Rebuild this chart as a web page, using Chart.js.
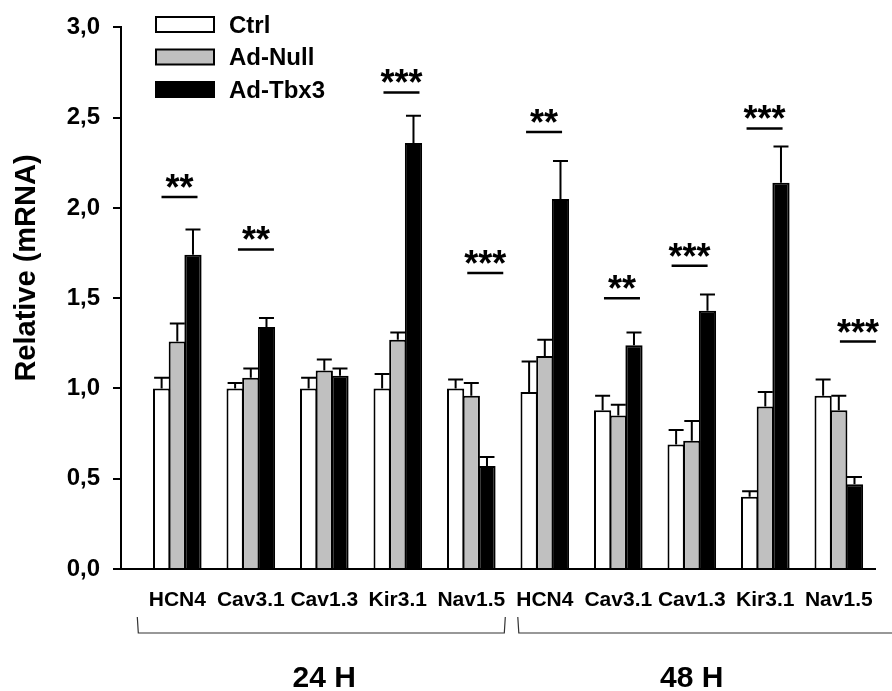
<!DOCTYPE html>
<html>
<head>
<meta charset="utf-8">
<script src="https://cdn.jsdelivr.net/npm/chart.js@4.4.1/dist/chart.umd.min.js"></script>
<style>
  html, body { margin: 0; padding: 0; background: #fff; }
  #wrap { width: 892px; height: 691px; }
</style>
</head>
<body>
<div id="wrap"><canvas id="mrnaChart"></canvas></div>
<script>
// data
const genes = ['HCN4', 'Cav3.1', 'Cav1.3', 'Kir3.1', 'Nav1.5', 'HCN4', 'Cav3.1', 'Cav1.3', 'Kir3.1', 'Nav1.5'];
const timeGroups = ['24 H', '48 H'];
const groupFirst = [0, 5];
const groupLast = [4, 9];
const seriesNames = ['Ctrl', 'Ad-Null', 'Ad-Tbx3'];

const ctrlMean = [1.0, 1.0, 1.0, 1.0, 1.0, 0.98, 0.88, 0.69, 0.40, 0.96];
const ctrlErr  = [0.06, 0.03, 0.06, 0.08, 0.05, 0.17, 0.08, 0.08, 0.03, 0.09];
const nullMean = [1.26, 1.06, 1.10, 1.27, 0.96, 1.18, 0.85, 0.71, 0.90, 0.88];
const nullErr  = [0.10, 0.05, 0.06, 0.04, 0.07, 0.09, 0.06, 0.11, 0.08, 0.08];
const tbx3Mean = [1.74, 1.34, 1.07, 2.36, 0.57, 2.05, 1.24, 1.43, 2.14, 0.47];
const tbx3Err  = [0.14, 0.05, 0.04, 0.15, 0.05, 0.21, 0.07, 0.09, 0.20, 0.04];

// significance marks: text, x position (category units), y level of the bar
const sigText  = ['**', '**', '***', '***', '**', '**', '***', '***', '***'];
const sigPos   = [0.03, 1.07, 3.05, 4.19, 4.99, 6.05, 6.97, 7.99, 9.26];
const sigLevel = [2.06, 1.77, 2.64, 1.64, 2.42, 1.50, 1.68, 2.44, 1.26];

const yTicks = [0, 0.5, 1.0, 1.5, 2.0, 2.5, 3.0];

const errs = [ctrlErr, nullErr, tbx3Err];
const fills = ['#ffffff', '#c0c0c0', '#000000'];
const FONT = '"Liberation Sans", Arial, sans-serif';

const extras = {
  id: 'extras',
  afterDatasetsDraw(chart) {
    const { ctx, scales: { y } } = chart;
    ctx.save();
    ctx.strokeStyle = '#000';
    ctx.lineWidth = 2;
    chart.data.datasets.forEach((ds, di) => {
      const meta = chart.getDatasetMeta(di);
      meta.data.forEach((bar, i) => {
        const top = y.getPixelForValue(ds.data[i].y + errs[di][i]);
        ctx.beginPath();
        ctx.moveTo(bar.x, bar.y);
        ctx.lineTo(bar.x, top);
        ctx.moveTo(bar.x - 7.5, top);
        ctx.lineTo(bar.x + 7.5, top);
        ctx.stroke();
      });
    });
    ctx.restore();
  },
  afterDraw(chart) {
    const { ctx, scales: { x, y } } = chart;
    ctx.save();

    // significance bars + stars
    ctx.fillStyle = '#000';
    ctx.strokeStyle = '#000';
    ctx.font = 'bold 36px ' + FONT;
    ctx.textAlign = 'center';
    ctx.textBaseline = 'alphabetic';
    sigText.forEach((t, i) => {
      const cx = x.getPixelForValue(sigPos[i]);
      const ly = y.getPixelForValue(sigLevel[i]);
      ctx.lineWidth = 2.5;
      ctx.beginPath();
      ctx.moveTo(cx - 18, ly);
      ctx.lineTo(cx + 18, ly);
      ctx.stroke();
      ctx.fillText(t, cx, ly + 3);
    });

    // brackets under the gene names
    ctx.strokeStyle = '#333';
    ctx.lineWidth = 1.2;
    const bTop = 617, bBot = 633;
    const l0 = x.getPixelForValue(groupFirst[0]) - 40;
    const r0 = x.getPixelForValue(groupLast[0]) + 34;
    ctx.beginPath();
    ctx.moveTo(l0, bTop); ctx.lineTo(l0 + 1, bBot); ctx.lineTo(r0 - 1, bBot); ctx.lineTo(r0, bTop);
    ctx.stroke();
    const l1 = x.getPixelForValue(groupFirst[1]) - 27;
    ctx.beginPath();
    ctx.moveTo(l1, bTop); ctx.lineTo(l1 + 1, bBot); ctx.lineTo(chart.width, bBot);
    ctx.stroke();

    // group labels
    ctx.fillStyle = '#000';
    ctx.font = 'bold 30px ' + FONT;
    ctx.textBaseline = 'alphabetic';
    timeGroups.forEach((g, i) => {
      const cx = x.getPixelForValue((groupFirst[i] + groupLast[i]) / 2);
      ctx.fillText(g, cx, 687);
    });

    // y axis title
    ctx.save();
    ctx.translate(27, 268);
    ctx.rotate(-Math.PI / 2);
    ctx.font = 'bold 29px ' + FONT;
    ctx.textAlign = 'center';
    ctx.textBaseline = 'middle';
    ctx.fillText('Relative (mRNA)', 0, 0);
    ctx.restore();

    // legend
    ctx.font = 'bold 24px ' + FONT;
    ctx.textAlign = 'left';
    ctx.textBaseline = 'middle';
    chart.data.datasets.forEach((ds, i) => {
      const top = 17 + i * 32.5;
      ctx.fillStyle = ds.backgroundColor;
      ctx.fillRect(156, top, 58, 15);
      ctx.strokeStyle = '#000';
      ctx.lineWidth = 2;
      ctx.strokeRect(156, top, 58, 15);
      ctx.fillStyle = '#000';
      ctx.fillText(ds.label, 229, top + 9);
    });

    ctx.restore();
  }
};

new Chart(document.getElementById('mrnaChart'), {
  type: 'bar',
  data: {
    datasets: [ctrlMean, nullMean, tbx3Mean].map((vals, di) => ({
      label: seriesNames[di],
      data: vals.map((v, i) => ({ x: i, y: v })),
      backgroundColor: fills[di],
      borderColor: '#000',
      borderWidth: 2,
      categoryPercentage: 0.64,
      barPercentage: 1.1
    }))
  },
  options: {
    responsive: true,
    maintainAspectRatio: false,
    animation: false,
    layout: { padding: { left: 0, top: 19, right: 7, bottom: 0 } },
    plugins: {
      legend: { display: false },
      tooltip: { enabled: false }
    },
    scales: {
      x: {
        type: 'linear',
        offset: false,
        min: -0.766,
        max: 9.5,
        afterBuildTicks: (scale) => { scale.ticks = genes.map((g, i) => ({ value: i })); },
        afterFit: (scale) => { scale.height = 122; },
        grid: { display: false, drawTicks: false, offset: false },
        border: { display: true, color: '#000', width: 2 },
        ticks: {
          autoSkip: false,
          maxRotation: 0,
          padding: 19,
          color: '#000',
          font: { family: FONT, size: 21, weight: 'bold' },
          callback: (v) => genes[v]
        }
      },
      y: {
        min: 0,
        max: 3,
        afterBuildTicks: (scale) => { scale.ticks = yTicks.map(v => ({ value: v })); },
        afterFit: (scale) => { scale.width = 121; },
        grid: { display: true, drawOnChartArea: false, drawTicks: true, tickLength: 8, color: '#000', lineWidth: 2 },
        border: { display: true, color: '#000', width: 2 },
        ticks: {
          padding: 13,
          color: '#000',
          font: { family: FONT, size: 24, weight: 'bold' },
          callback: (v) => v.toFixed(1).replace('.', ',')
        }
      }
    }
  },
  plugins: [extras]
});
</script>
</body>
</html>
